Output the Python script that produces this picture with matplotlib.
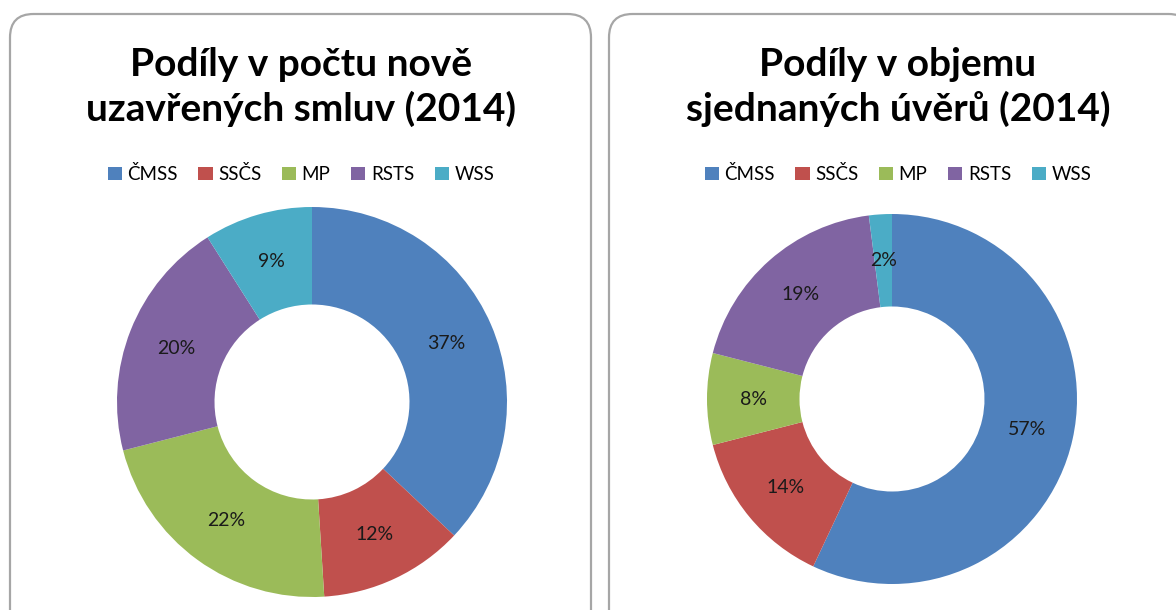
import matplotlib.pyplot as plt
from matplotlib.patches import FancyBboxPatch, Patch

plt.rcParams['font.family'] = ['Lato', 'DejaVu Sans']

# data
categories = ["ČMSS", "SSČS", "MP", "RSTS", "WSS"]
contracts_share = [37, 12, 22, 20, 9]      # počet nově uzavřených smluv
volume_share = [57, 14, 8, 19, 2]          # objem sjednaných úvěrů
titles = ["Podíly v počtu nově\nuzavřených smluv (2014)",
          "Podíly v objemu\nsjednaných úvěrů (2014)"]
colors = ["#4F81BD", "#C0504D", "#9BBB59", "#8064A2", "#4BACC6"]

W, H = 1176, 610
fig = plt.figure(figsize=(W / 100, H / 100), dpi=100)


def px_rect(cx, cy, r):
    return [(cx - r) / W, (H - cy - r) / H, 2 * r / W, 2 * r / H]


# rounded panel frames (behind the axes)
for x0, x1 in [(10, 591), (609, 1192)]:
    box = FancyBboxPatch((x0 / W, -30 / H), (x1 - x0) / W, (H - 14 + 30) / H,
                         boxstyle="round,pad=0,rounding_size=0.02",
                         transform=fig.transFigure, facecolor="white",
                         edgecolor="#A6A6A6", linewidth=1.6, clip_on=False,
                         mutation_aspect=W / H, zorder=-5)
    fig.patches.append(box)

panels = [
    (contracts_share, titles[0], (312, 402, 195), 301),
    (volume_share, titles[1], (892, 399, 185), 898),
]

for values, title, (cx, cy, r), tx in panels:
    ax = fig.add_axes(px_rect(cx, cy, r))
    ax.set_zorder(2)
    ax.patch.set_alpha(0)
    ax.pie(values, colors=colors, startangle=90, counterclock=False,
           radius=1.0, wedgeprops=dict(width=0.5, linewidth=0),
           autopct=lambda p: f"{p:.0f}%", pctdistance=0.75,
           textprops=dict(fontsize=14, color="#1a1a1a"))
    ax.set_xlim(-1, 1)
    ax.set_ylim(-1, 1)
    ax.set_aspect("equal")
    ax.axis("off")

    fig.text(tx / W, 1 - 87 / H, title, ha="center", va="center",
             fontsize=28, fontweight="bold", linespacing=1.3, color="black")

    handles = [Patch(facecolor=c, edgecolor="none") for c in colors]
    fig.legend(handles, categories, loc="center",
               bbox_to_anchor=(tx / W, 1 - 174 / H), ncol=5, frameon=False,
               fontsize=13.5, handlelength=0.75, handleheight=0.75,
               handletextpad=0.3, columnspacing=1.1)

fig.savefig("out.png", dpi=100, facecolor="white")
